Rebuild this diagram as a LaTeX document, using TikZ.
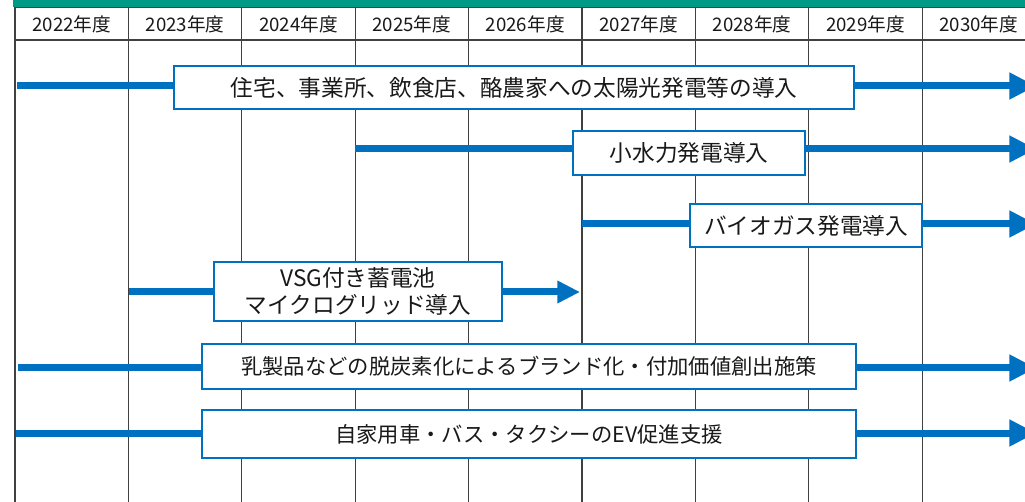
\documentclass[tikz,border=0pt]{standalone}
\usepackage{fontspec}
\setmainfont{Noto Sans CJK JP}
\usetikzlibrary{arrows.meta}
\definecolor{barcol}{RGB}{0,155,135}
\definecolor{ablue}{RGB}{0,112,192}
\definecolor{gridcol}{RGB}{64,64,64}
\begin{document}
\begin{tikzpicture}[x=0.75pt,y=-0.75pt,
  gridline/.style={draw=gridcol,line width=0.8pt},
  yearlabel/.style={font=\fontsize{14}{16}\selectfont,text=black!90,anchor=center,inner sep=0pt},
  plan/.style={draw=ablue,line width=1.5pt,fill=white,inner sep=0pt,font=\fontsize{17}{20}\selectfont,align=center,text=black!90},
  flow/.style={draw=ablue,line width=5.25pt},
  bigtip/.style={flow,-{Triangle[length=20pt,width=19pt]}},
  smalltip/.style={flow,-{Triangle[length=17pt,width=16pt]}}]
\useasboundingbox (0,0) rectangle (1025,502);
\clip (0,0) rectangle (1025,502);
% top bar and grid
\fill[barcol] (13,0) rectangle (1025,7);
\draw[gridline] (15,7.5) -- (1025,7.5);
\draw[gridline] (15,40) -- (1025,40);
\foreach \i in {0,...,8} \draw[gridline] ({15+113.4*\i},7.5) -- ({15+113.4*\i},502);
\foreach \i/\yr in {0/2022,1/2023,2/2024,3/2025,4/2026,5/2027,6/2028,7/2029,8/2030}
  \node[yearlabel] (y\i) at ({71.7+113.4*\i},24) {\yr{}年度};
% boxes
\node[plan,minimum width=510pt,minimum height=32.25pt] (b1) at (514,87.5) {住宅、事業所、飲食店、酪農家への太陽光発電等の導入};
\node[plan,minimum width=174pt,minimum height=33pt] (b2) at (689,153) {小水力発電導入};
\node[plan,minimum width=174pt,minimum height=32.25pt] (b3) at (806,225.5) {バイオガス発電導入};
\node[plan,minimum width=216pt,minimum height=44.25pt,font=\fontsize{17}{20}\selectfont] (b4) at (358,291.5) {VSG付き蓄電池\\マイクログリッド導入};
\node[plan,minimum width=490.5pt,minimum height=33.75pt,font=\fontsize{16}{18}\selectfont] (b5) at (529,366.5) {乳製品などの脱炭素化によるブランド化・付加価値創出施策};
\node[plan,minimum width=490.5pt,minimum height=36pt,font=\fontsize{16}{18}\selectfont] (b6) at (529,434) {自家用車・バス・タクシーのEV促進支援};
% connector end points
\coordinate (s1) at (17,86);    \coordinate (e1) at (1036,86);
\coordinate (s2) at (355,148.5); \coordinate (e2) at (1036,149);
\coordinate (s3) at (582,224);  \coordinate (e3) at (1036,224);
\coordinate (s4) at (129,292);  \coordinate (e4) at (580,292);
\coordinate (s5) at (18,368);   \coordinate (e5) at (1036,368);
\coordinate (s6) at (16,433);   \coordinate (e6) at (1036,433);
% arrows
\foreach \k in {1,2,3,5,6}{
  \draw[flow] (s\k) -- (s\k -| b\k.west);
  \draw[bigtip] (e\k -| b\k.east) -- (e\k);
}
\draw[flow] (s4) -- (s4 -| b4.west);
\draw[smalltip] (e4 -| b4.east) -- (e4);
\end{tikzpicture}
\end{document}
